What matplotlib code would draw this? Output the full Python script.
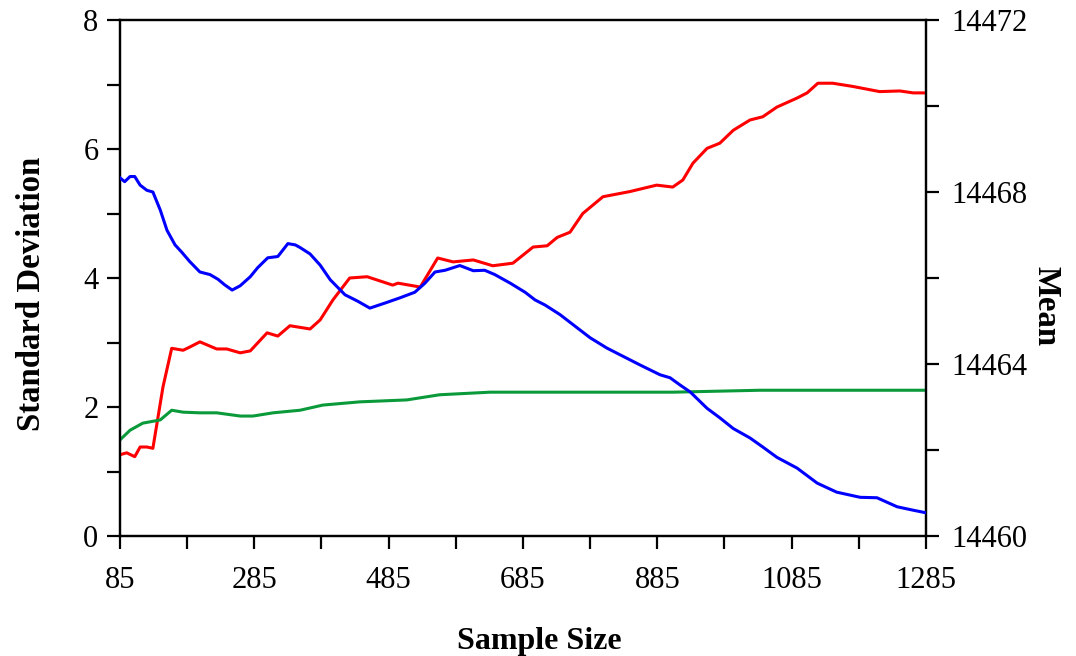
import matplotlib
matplotlib.use("Agg")
import matplotlib.pyplot as plt
from matplotlib.ticker import MultipleLocator, FixedLocator

# ---- data ----
blue_x = [85, 92, 100, 107, 115, 125, 134, 145, 155, 167, 177, 189, 204, 219, 231, 241, 252, 264,
          279, 290, 305, 320, 335, 346, 353, 368, 383, 398, 420, 439, 457, 480, 502, 524, 539, 554,
          569, 591, 611, 628, 643, 666, 688, 703, 718, 740, 750, 785, 810, 859, 889, 904, 919, 934,
          959, 978, 998, 1023, 1042, 1063, 1093, 1123, 1152, 1187, 1212, 1242, 1266, 1285]
blue_mean = [14468.33, 14468.24, 14468.36, 14468.36, 14468.16, 14468.04, 14468.00, 14467.58,
             14467.11, 14466.77, 14466.60, 14466.38, 14466.14, 14466.08, 14465.97, 14465.84,
             14465.72, 14465.82, 14466.03, 14466.24, 14466.47, 14466.50, 14466.80, 14466.77,
             14466.71, 14466.56, 14466.30, 14465.96, 14465.61, 14465.46, 14465.30, 14465.42,
             14465.54, 14465.67, 14465.88, 14466.14, 14466.18, 14466.29, 14466.17, 14466.18,
             14466.08, 14465.88, 14465.67, 14465.49, 14465.37, 14465.15, 14465.03, 14464.61,
             14464.37, 14463.98, 14463.75, 14463.68, 14463.51, 14463.35, 14462.97, 14462.75,
             14462.50, 14462.28, 14462.07, 14461.83, 14461.58, 14461.23, 14461.02, 14460.90,
             14460.89, 14460.68, 14460.60, 14460.54]

red_x = [85, 95, 107, 115, 125, 134, 149, 162, 179, 189, 204, 229, 244, 264, 279, 304, 320, 338,
         368, 383, 402, 427, 453, 491, 499, 532, 558, 581, 611, 640, 670, 700, 721, 736, 755, 774,
         804, 844, 884, 908, 923, 938, 959, 978, 998, 1023, 1042, 1063, 1093, 1108, 1124, 1146,
         1176, 1216, 1246, 1266, 1285]
red_sd = [1.26, 1.29, 1.23, 1.38, 1.38, 1.36, 2.31, 2.91, 2.88, 2.93, 3.01, 2.90, 2.90, 2.84, 2.87,
          3.15, 3.10, 3.26, 3.21, 3.35, 3.66, 4.00, 4.02, 3.89, 3.92, 3.86, 4.31, 4.25, 4.28, 4.19,
          4.23, 4.48, 4.50, 4.63, 4.71, 5.00, 5.26, 5.34, 5.44, 5.41, 5.52, 5.78, 6.01, 6.09, 6.29,
          6.45, 6.50, 6.65, 6.79, 6.87, 7.02, 7.02, 6.97, 6.89, 6.90, 6.87, 6.87]

green_x = [85, 100, 119, 145, 162, 179, 204, 229, 264, 283, 313, 353, 387, 442, 512, 561, 636,
           759, 908, 1038, 1285]
green_sd = [1.49, 1.64, 1.75, 1.80, 1.95, 1.92, 1.91, 1.91, 1.86, 1.86, 1.91, 1.95, 2.03, 2.08,
            2.11, 2.19, 2.23, 2.23, 2.23, 2.26, 2.26]

x_ticks = [85, 285, 485, 685, 885, 1085, 1285]
x_minor = [185, 385, 585, 785, 985, 1185]
sd_ticks = [0, 2, 4, 6, 8]
mean_ticks = [14460, 14464, 14468, 14472]

# ---- figure ----
plt.rcParams['font.family'] = ['Liberation Serif', 'DejaVu Serif']
fig = plt.figure(figsize=(10.76, 6.56), dpi=100)
ax = fig.add_axes([0.1115, 0.1829, 0.7491, 0.7866])
ax2 = ax.twinx()

ax.plot(red_x, red_sd, color='#ff0000', lw=2.2, zorder=3)
ax.plot(green_x, green_sd, color='#0a9a3a', lw=2.2, zorder=3)
ax2.plot(blue_x, blue_mean, color='#0000ff', lw=2.2, zorder=3)

ax.set_xlim(85, 1285)
ax.set_ylim(0, 8)
ax2.set_ylim(14460, 14472)

ax.xaxis.set_major_locator(FixedLocator(x_ticks))
ax.xaxis.set_minor_locator(FixedLocator(x_minor))
ax.set_xticklabels([str(v) for v in x_ticks])
ax.yaxis.set_major_locator(FixedLocator(sd_ticks))
ax.yaxis.set_minor_locator(MultipleLocator(1))
ax.set_yticklabels([str(v) for v in sd_ticks])
ax2.yaxis.set_major_locator(FixedLocator(mean_ticks))
ax2.yaxis.set_minor_locator(MultipleLocator(2))
ax2.set_yticklabels([str(v) for v in mean_ticks])

for a in (ax, ax2):
    for s in a.spines.values():
        s.set_linewidth(1.6)
        s.set_color('black')

ax.tick_params(axis='x', which='both', direction='out', length=9.5, width=1.6,
               labelsize=22, pad=12)
ax.tick_params(axis='y', which='both', direction='out', length=9.5, width=1.6,
               labelsize=22, pad=6)
ax2.tick_params(axis='y', which='both', direction='out', length=9.5, width=1.6,
                labelsize=22, pad=9)

ax.set_xlabel('Sample Size', fontsize=23, fontweight='bold', labelpad=23)
ax.xaxis.label.set_x(0.52)
ax.set_ylabel('Standard Deviation', fontsize=23.6, fontweight='bold', labelpad=26)
ax.yaxis.label.set_y(0.469)
ax2.set_ylabel('Mean', fontsize=23.6, fontweight='bold', rotation=270, labelpad=24)
ax2.yaxis.label.set_y(0.446)

fig.savefig('out.png', dpi=100)
